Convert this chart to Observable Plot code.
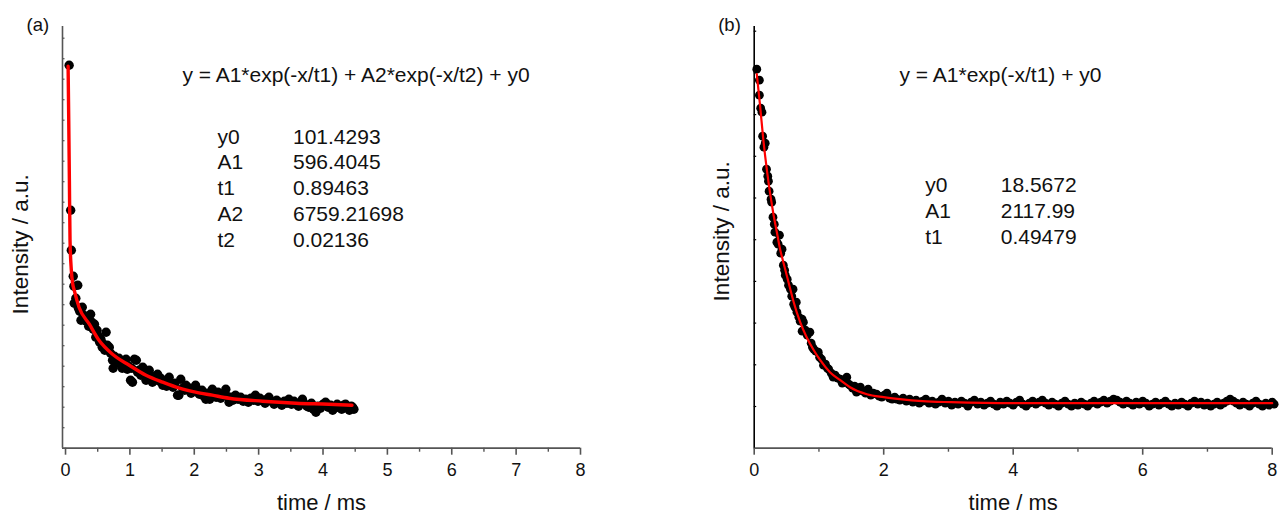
<!DOCTYPE html>
<html>
<head>
<meta charset="utf-8">
<script src="https://cdn.jsdelivr.net/npm/d3@7"></script>
<script src="https://cdn.jsdelivr.net/npm/@observablehq/plot@0.6"></script>
<style>
  html, body { margin: 0; padding: 0; background: #fff; }
  #wrap { display: flex; width: 1279px; height: 515px; }
  svg { font-family: "Liberation Sans", Arial, sans-serif; }
</style>
</head>
<body>
<div id="wrap"></div>
<script>
// ---------- Panel (a) data ----------
const timeA = [0.056,0.08,0.09,0.12,0.13,0.135,0.16,0.19,0.2,0.22,0.24,0.26,0.28,0.30,0.32,0.34,0.36,0.39,0.41,0.43,0.45,0.47,0.49,0.51,0.53,0.55,0.57,0.59,0.61,0.63,0.65,0.68,0.70,0.73,0.74,0.76,0.79,0.81,0.83,0.86,0.88,0.91,0.94,0.96,0.98,1.01,1.03,1.04,1.07,1.10,1.12,1.14,1.17,1.20,1.22,1.25,1.28,1.30,1.33,1.35,1.38,1.41,1.43,1.46,1.48,1.51,1.54,1.57,1.61,1.64,1.67,1.70,1.74,1.76,1.79,1.82,1.85,1.87,1.90,1.92,1.95,1.98,2.02,2.05,2.08,2.12,2.15,2.18,2.21,2.24,2.28,2.31,2.34,2.37,2.41,2.45,2.49,2.51,2.54,2.57,2.60,2.64,2.68,2.72,2.76,2.80,2.84,2.88,2.92,2.95,2.99,3.02,3.06,3.10,3.13,3.16,3.20,3.24,3.28,3.32,3.36,3.40,3.44,3.47,3.51,3.55,3.58,3.62,3.65,3.68,3.72,3.75,3.78,3.82,3.85,3.89,3.92,3.96,4.00,4.04,4.08,4.12,4.15,4.18,4.22,4.25,4.29,4.32,4.35,4.38,4.41,4.44,4.46,4.48];
const intensityA = [383,238,198,172,162,145,150,163,140,137,128,141,133,130,127,132,122,134,126,119,124,111,118,112,106,109,101,104,98,116,103,101,95,88,80,92,85,86,90,84,80,86,89,79,82,68,80,66,89,88,76,78,73,81,75,68,74,78,70,66,72,69,74,67,70,63,66,62,71,64,61,65,53,53,69,60,58,63,61,58,55,59,63,56,54,58,52,49,55,49,59,54,51,56,50,53,59,52,46,51,48,53,49,51,47,49,46,50,48,53,47,50,48,45,49,51,47,44,48,46,43,47,45,49,44,47,44,42,46,49,44,42,41,45,39,36,42,40,44,46,41,43,38,40,44,41,39,43,44,40,38,42,41,39];
const fitTimeA = [0.04,0.05,0.06,0.07,0.09,0.11,0.135,0.21,0.37,0.52,0.73,0.99,1.25,1.51,1.77,2.02,2.28,2.54,3.06,3.58,4.09,4.45];
const fitA = [382,328,268,208,178,165,158,141,124,108,94,83,73,66,60,56,53,50,47,45,44,43];
const formulaA = "y = A1*exp(-x/t1) + A2*exp(-x/t2) + y0";
const paramNamesA = ["y0","A1","t1","A2","t2"];
const paramValuesA = ["101.4293","596.4045","0.89463","6759.21698","0.02136"];
const xTicksA = [0,1,2,3,4,5,6,7,8];
const xMinorA = [0.5,1.5,2.5,3.5,4.5,5.5,6.5,7.5];

// ---------- Panel (b) data ----------
const timeB = [0.04,0.08,0.08,0.10,0.12,0.13,0.15,0.17,0.19,0.21,0.22,0.23,0.26,0.27,0.29,0.31,0.32,0.35,0.37,0.39,0.41,0.43,0.45,0.47,0.48,0.51,0.53,0.56,0.58,0.60,0.61,0.63,0.65,0.66,0.69,0.71,0.74,0.74,0.76,0.79,0.82,0.86,0.88,0.90,0.92,0.95,0.99,1.01,1.04,1.07,1.10,1.13,1.15,1.19,1.22,1.25,1.29,1.33,1.36,1.40,1.43,1.46,1.48,1.52,1.55,1.58,1.61,1.64,1.68,1.72,1.76,1.80,1.84,1.89,1.93,1.97,2.01,2.05,2.09,2.13,2.17,2.20,
2.25,2.30,2.35,2.40,2.45,2.50,2.55,2.60,2.65,2.70,2.75,2.80,2.85,2.90,2.95,3.00,3.05,3.10,3.15,3.20,3.25,3.30,3.35,3.40,3.45,3.50,3.55,3.60,3.65,3.70,3.75,3.80,3.85,3.90,3.95,4.00,4.05,4.10,4.15,4.20,4.25,4.30,4.35,4.40,4.45,4.50,4.55,4.60,4.65,4.70,4.75,4.80,4.85,4.90,4.95,5.00,5.05,5.10,5.15,5.20,5.25,5.30,5.35,5.40,5.45,5.50,5.55,5.60,5.65,5.70,5.75,5.80,5.85,5.90,5.95,6.00,6.05,6.10,6.15,6.20,6.25,6.30,6.35,6.40,6.45,6.50,6.55,6.60,6.65,6.70,6.75,6.80,6.85,6.90,6.95,7.00,7.05,7.10,7.15,7.20,7.25,7.30,7.35,7.40,7.45,7.50,7.55,7.60,7.65,7.70,7.75,7.80,7.85,7.90,7.95,8.00,8.03];
const intensityB = [379,368,353,340,336,312,301,305,279,272,267,257,249,246,231,224,216,206,204,213,195,199,183,178,173,169,163,159,152,159,144,141,146,136,131,127,129,117,126,118,113,116,105,101,99,97,96,91,89,83,84,80,79,75,71,73,70,69,65,67,71,64,63,60,62,56,59,61,57,55,59,53,55,54,52,51,53,55,50,49,51,49,
48,50,47,49,46,48,45,47,49,45,47,44,46,49,45,47,43,46,44,47,45,42,46,48,44,46,43,45,47,44,42,46,44,47,45,43,46,48,44,42,45,47,44,46,48,45,43,46,44,42,45,47,44,42,45,43,46,44,42,45,47,44,46,48,45,47,49,48,46,44,47,45,43,46,44,47,45,42,44,46,43,45,47,44,42,45,43,46,44,42,45,47,44,46,43,45,42,44,46,43,45,47,49,47,45,43,46,44,42,45,47,44,42,45,43,46,44];
const fitTimeB = [0.04,0.09,0.14,0.20,0.25,0.30,0.35,0.40,0.45,0.53,0.61,0.71,0.81,0.92,1.02,1.17,1.33,1.48,1.74,2.0,2.25,2.6,3.04,4.0,6.0,8.0];
const fitB = [374,343,309,276,253,233,216,199,186,166,146,126,111,98,88,76,68,61,54,51,49,47,46,45,45,45];
const formulaB = "y = A1*exp(-x/t1) + y0";
const paramNamesB = ["y0","A1","t1"];
const paramValuesB = ["18.5672","2117.99","0.49479"];
const xTicksB = [0,2,4,6,8];
const xMinorB = [1,3,5,7];

const xLabel = "time / ms";
const yLabel = "Intensity / a.u.";

const ptsA = timeA.map((t, i) => ({t, v: intensityA[i]}));
const fitPtsA = fitTimeA.map((t, i) => ({t, v: fitA[i]}));
const ptsB = timeB.map((t, i) => ({t, v: intensityB[i]}));
const fitPtsB = fitTimeB.map((t, i) => ({t, v: fitB[i]}));

const H = 515, TOP = 26, BOTTOM = 67.3;
const YMAX = 421.7;
const AXIS = "#555";

function panel({width, marginLeft, marginRight, xDomain, pts, fit, r, lw, xTicks, xMinor, yTickStep,
                tag, formula, fDx, names, values, nDx, vDx, pDy, yLabDx, yLabDy, yAxisColor}) {
  return Plot.plot({
    width, height: H,
    marginLeft, marginRight, marginTop: TOP, marginBottom: BOTTOM,
    x: {domain: xDomain},
    y: {domain: [0, YMAX]},
    style: {fontFamily: "'Liberation Sans', Arial, sans-serif", background: "#fff", color: "#111", overflow: "visible"},
    marks: [
      Plot.axisX({ticks: xTicks, tickSize: 7, tickPadding: 8, fontSize: 18, stroke: AXIS, strokeWidth: 1.6, label: null, tickFormat: d => String(d)}),
      Plot.axisX({ticks: xMinor, tickSize: 4, tickFormat: () => "", stroke: AXIS, strokeWidth: 1.4, label: null}),
      Plot.axisY({ticks: d3.range(yTickStep, YMAX, yTickStep), tickSize: -2.5, tickFormat: () => "", stroke: yAxisColor, strokeWidth: 1.2, label: null}),
      Plot.ruleY([0], {stroke: AXIS, strokeWidth: 1.8}),
      Plot.ruleX([xDomain[0]], {stroke: yAxisColor, strokeWidth: 1.6}),
      Plot.dot(pts, {x: "t", y: "v", r, fill: "#000", stroke: "none"}),
      Plot.line(fit, {x: "t", y: "v", stroke: "#f00", strokeWidth: lw, curve: "monotone-x"}),
      Plot.text([formula], {frameAnchor: "top-left", dx: fDx, dy: 49, text: d => d, textAnchor: "middle", lineAnchor: "middle", fontSize: 21, fill: "#111"}),
      Plot.text([names.join("\n")], {frameAnchor: "top-left", dx: nDx, dy: pDy, text: d => d, textAnchor: "start", lineAnchor: "middle", lineHeight: 1.23, fontSize: 21, fill: "#111"}),
      Plot.text([values.join("\n")], {frameAnchor: "top-left", dx: vDx, dy: pDy, text: d => d, textAnchor: "start", lineAnchor: "middle", lineHeight: 1.23, fontSize: 21, fill: "#111"}),
      Plot.text([tag], {frameAnchor: "top-left", dx: -36, dy: -1, text: d => d, textAnchor: "start", lineAnchor: "middle", fontSize: 18.5, fill: "#111"}),
      Plot.text([xLabel], {frameAnchor: "bottom", dy: 54.5, text: d => d, textAnchor: "middle", lineAnchor: "middle", fontSize: 22, fill: "#111"}),
      Plot.text([yLabel], {frameAnchor: "left", dx: yLabDx, dy: yLabDy, rotate: -90, text: d => d, textAnchor: "middle", lineAnchor: "middle", fontSize: 22.5, fill: "#111"})
    ]
  });
}

const wrap = document.getElementById("wrap");
wrap.append(panel({
  width: 640, marginLeft: 62, marginRight: 60, xDomain: [-0.047, 8],
  pts: ptsA, fit: fitPtsA, r: 4.7, lw: 3.4, xTicks: xTicksA, xMinor: xMinorA, yTickStep: 20.5,
  tag: "(a)", formula: formulaA, fDx: 293.5, names: paramNamesA, values: paramValuesA,
  nDx: 155, vDx: 230.5, pDy: 160.5, yLabDx: -42, yLabDy: 7, yAxisColor: AXIS
}));
wrap.append(panel({
  width: 639, marginLeft: 113.7, marginRight: 7.3, xDomain: [0, 8],
  pts: ptsB, fit: fitPtsB, r: 4.4, lw: 2.2, xTicks: xTicksB, xMinor: xMinorB, yTickStep: 41.7,
  tag: "(b)", formula: formulaB, fDx: 246.3, names: paramNamesB, values: paramValuesB,
  nDx: 171, vDx: 246.5, pDy: 183, yLabDx: -32.7, yLabDy: -6, yAxisColor: "#000"
}));
</script>
</body>
</html>
